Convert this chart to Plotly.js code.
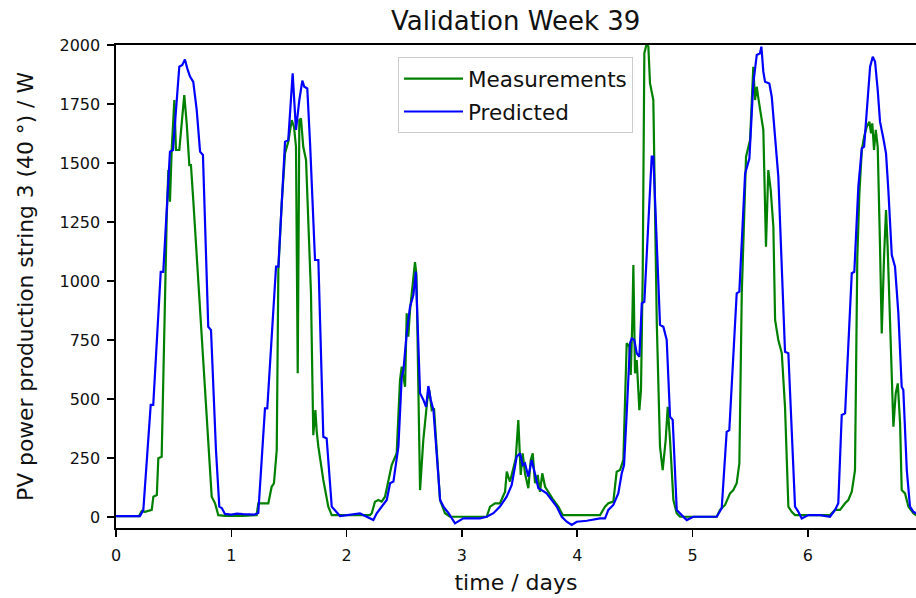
<!DOCTYPE html>
<html>
<head>
<meta charset="utf-8">
<script src="https://cdn.plot.ly/plotly-3.0.1.min.js"></script>
<style>html,body{margin:0;padding:0;background:#fff;}#chart{width:916px;height:598px;}</style>
</head>
<body>
<div id="chart"></div>
<script>
// time in days
const tMeas = [0,0.1,0.2,0.223,0.252,0.31,0.324,0.354,0.367,0.396,
 0.41,0.44,0.454,0.468,0.483,0.497,0.506,0.52,0.549,0.57,
 0.592,0.613,0.636,0.65,0.659,0.67,0.83,0.859,0.887,0.95,
 1.1,1.22,1.234,1.278,1.321,1.35,1.37,1.394,1.408,1.437,
 1.466,1.494,1.524,1.544,1.561,1.576,1.59,1.604,1.624,1.648,
 1.668,1.691,1.711,1.729,1.741,1.755,1.798,1.841,1.871,2.203,
 2.218,2.246,2.275,2.304,2.333,2.37,2.391,2.434,2.463,2.478,
 2.507,2.521,2.535,2.55,2.593,2.606,2.637,2.665,2.7,2.717,
 2.738,2.758,2.781,2.81,2.853,2.897,3.215,3.244,3.287,3.33,
 3.374,3.389,3.402,3.417,3.446,3.467,3.489,3.51,3.527,3.547,
 3.576,3.597,3.614,3.634,3.657,3.677,3.697,3.721,3.749,3.793,
 3.836,3.874,4.198,4.241,4.27,4.313,4.342,4.371,4.4,4.429,
 4.452,4.464,4.478,4.487,4.501,4.516,4.539,4.553,4.568,4.582,
 4.603,4.617,4.631,4.66,4.69,4.718,4.741,4.767,4.785,4.805,
 4.834,4.863,4.891,5.21,5.238,5.282,5.325,5.354,5.383,5.406,
 5.427,5.441,5.464,5.499,5.527,5.542,5.557,5.571,5.592,5.614,
 5.637,5.657,5.678,5.701,5.716,5.744,5.774,5.802,5.831,5.86,
 5.889,6.192,6.236,6.279,6.323,6.351,6.381,6.409,6.418,6.429,
 6.447,6.468,6.488,6.511,6.534,6.548,6.559,6.574,6.589,6.606,
 6.626,6.641,6.661,6.678,6.692,6.712,6.728,6.742,6.762,6.78,
 6.8,6.814,6.843,6.872,6.915,6.938,6.99];
// measured PV power / W
const pMeas = [4,5,4,25,22,30,86,93,249,255,
 600,1272,1470,1336,1555,1710,1767,1555,1555,1669,
 1788,1669,1491,1491,1428,1343,86,58,8,5,
 5,8,58,58,58,128,143,284,1047,1329,
 1541,1590,1682,1653,1569,609,1682,1689,1569,1513,
 1258,948,347,453,361,298,157,44,8,8,
 16,65,72,65,86,178,220,270,580,637,
 552,863,764,877,1080,1025,114,326,496,538,
 453,460,284,72,16,1,1,44,58,58,
 107,192,171,150,206,249,411,178,270,185,
 122,242,270,143,178,107,185,128,107,72,
 44,8,8,44,58,65,192,199,242,736,
 722,602,835,1068,609,665,453,538,1033,1965,
 2007,1993,1838,1767,821,298,199,326,467,326,
 72,16,1,1,30,51,100,114,143,227,
 948,1174,1527,1597,1908,1767,1823,1774,1711,1640,
 1145,1470,1386,1230,835,750,694,467,44,22,
 8,8,30,30,58,72,107,199,609,1103,
 1371,1555,1611,1654,1675,1626,1668,1555,1640,1569,
 1145,778,1103,1301,1145,806,538,383,524,566,
 397,114,100,44,16,8,5];

const tPred = [0,0.1,0.208,0.237,0.301,0.323,0.388,0.41,0.468,0.494,
 0.549,0.575,0.598,0.618,0.642,0.670,0.7,0.729,0.754,0.8,
 0.824,0.867,0.896,0.917,0.945,1.0,1.05,1.1,1.15,1.2,
 1.234,1.292,1.312,1.388,1.408,1.466,1.494,1.532,1.561,1.590,
 1.616,1.633,1.659,1.683,1.726,1.755,1.798,1.827,1.871,1.908,
 1.943,2.116,2.2,
 2.232,2.261,2.319,2.348,2.377,2.406,2.449,2.478,2.493,2.521,
 2.550,2.579,2.60,2.637,2.666,2.689,2.709,2.730,2.753,2.782,
 2.811,2.840,2.884,2.940,2.968,3.012,3.157,3.215,3.273,3.330,
 3.388,3.432,3.460,3.475,3.504,3.527,3.547,3.576,3.605,3.634,
 3.663,3.692,3.735,3.779,3.822,3.866,3.909,3.952,3.996,4.083,
 4.198,4.241,4.270,4.313,4.356,4.386,4.406,4.429,4.458,4.473,
 4.495,4.516,4.539,4.560,4.582,4.646,4.660,4.718,4.747,4.776,
 4.805,4.828,4.863,4.906,4.950,5.007,5.210,5.253,5.296,5.319,
 5.383,5.406,5.456,5.493,5.527,5.557,5.585,5.597,5.614,5.629,
 5.666,5.687,5.744,5.802,5.831,5.889,5.918,5.947,6.004,6.106,
 6.192,6.236,6.264,6.294,6.323,6.381,6.403,6.438,6.468,6.488,
 6.511,6.540,6.563,6.583,6.606,6.626,6.655,6.678,6.698,6.728,
 6.756,6.785,6.814,6.828,6.858,6.886,6.915,6.938,6.99];
const pPred = [4,5,4,30,475,475,1039,1039,1548,1555,
 1908,1915,1939,1901,1866,1844,1725,1548,1534,806,
 792,284,44,38,13,10,14,12,11,10,
 17,460,460,1061,1061,1590,1597,1880,1640,1767,
 1849,1823,1816,1583,1089,1089,340,333,44,22,
 4,15,-6,
 -13,16,51,72,143,150,298,594,623,778,
 891,941,1040,524,496,467,555,496,453,255,
 72,44,16,-27,-20,-6,-6,1,16,44,
 86,136,213,255,270,220,227,171,242,178,
 122,114,100,72,44,1,-20,-34,-20,-16,
 -6,-6,30,51,100,185,220,439,736,757,
 750,694,679,906,912,1527,1527,814,806,750,
 425,411,30,8,-13,1,1,37,361,368,
 948,955,1456,1519,1837,1958,1965,1993,1887,1844,
 1837,1781,1442,700,694,44,22,-6,8,8,
 1,30,58,432,439,1033,1039,1400,1562,1569,
 1739,1908,1950,1929,1809,1675,1604,1541,1386,1110,
 1061,863,552,538,199,44,22,16,12];

const xTicks = [0,1,2,3,4,5,6];
const yTicks = [0,250,500,750,1000,1250,1500,1750,2000];

const FONT = 'DejaVu Sans, sans-serif';
const TXT = '#111';
const traces = [
  {x: tMeas, y: pMeas, type: 'scatter', mode: 'lines', name: 'Measurements',
   line: {color: '#008000', width: 2.2}, legendgroup: 'a'},
  {x: tPred, y: pPred, type: 'scatter', mode: 'lines', name: 'Predicted',
   line: {color: '#0000ff', width: 2.2}, legendgroup: 'b'}
];
const layout = {
  width: 916, height: 598,
  margin: {l: 116, r: 0, t: 45, b: 70, pad: 0},
  paper_bgcolor: '#fff', plot_bgcolor: '#fff',
  font: {family: FONT, size: 20, color: TXT},
  title: {text: 'Validation Week 39', font: {family: FONT, size: 26, color: TXT},
          x: 0.563, xref: 'container', xanchor: 'center', y: 1 - 21/598, yref: 'container', yanchor: 'middle'},
  showlegend: true,
  legend: {x: 0.3525, y: 0.975, xanchor: 'left', yanchor: 'top',
           bgcolor: 'rgba(255,255,255,0.8)', bordercolor: '#cccccc', borderwidth: 1,
           font: {family: FONT, size: 21.5, color: TXT}, itemwidth: 59,
           traceorder: 'grouped', tracegroupgap: 2},
  xaxis: {range: [0, 6.938], tickvals: xTicks, ticktext: xTicks.map(String),
          showgrid: false, zeroline: false, showline: true, linecolor: '#000', linewidth: 1.6,
          mirror: true, ticks: 'outside', ticklen: 7, tickwidth: 1.6, tickcolor: '#000',
          ticklabelstandoff: 5,
          tickfont: {family: FONT, size: 16, color: TXT},
          title: {text: 'time / days', font: {family: FONT, size: 22, color: TXT}, standoff: 11}},
  yaxis: {range: [-46.6, 2000], tickvals: yTicks, ticktext: yTicks.map(String),
          showgrid: false, zeroline: false, showline: true, linecolor: '#000', linewidth: 1.6,
          mirror: false, ticks: 'outside', ticklen: 7, tickwidth: 1.6, tickcolor: '#000',
          ticklabelstandoff: 4,
          tickfont: {family: FONT, size: 16, color: TXT},
          title: {text: 'PV power production string 3 (40 °) / W', font: {family: FONT, size: 21.8, color: TXT}, standoff: 20}}
};
Plotly.newPlot('chart', traces, layout, {staticPlot: true, displayModeBar: false});
</script>
</body>
</html>
